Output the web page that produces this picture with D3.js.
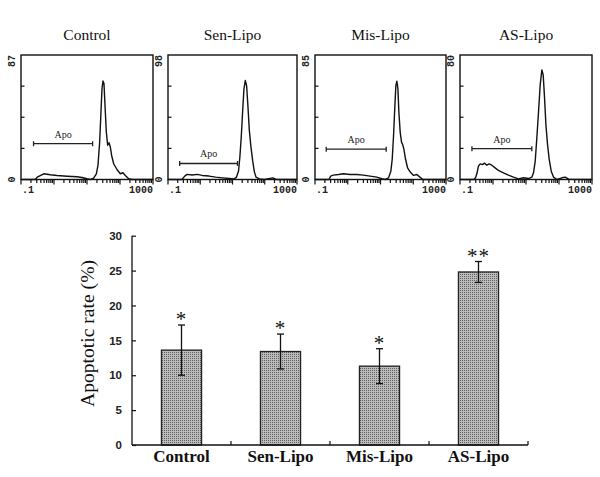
<!DOCTYPE html>
<html>
<head>
<meta charset="utf-8">
<script src="https://cdn.jsdelivr.net/npm/d3@7"></script>
<style>
  html, body { margin: 0; padding: 0; background: #fff; }
  svg { display: block; }
</style>
</head>
<body>
<div id="chart"></div>
<script>
// ---------------- DATA ----------------
// Flow cytometry histograms (fluorescence channel, cell count)
const panelNames = ["Control", "Sen-Lipo", "Mis-Lipo", "AS-Lipo"];
const panelMaxCount = [87, 98, 85, 80];

const controlChannel = [0.1, 0.27, 0.31, 0.49, 0.77, 1.23, 2.5, 5.0, 7.0, 10, 12.6, 15.9, 19.2, 21.5, 24.2, 26.5, 28.5, 30.5, 32.7, 35.1, 38.5, 42.3, 46.5, 50.9, 55.8, 64.3, 81, 102, 123, 145, 183, 231, 1000];
const controlCount   = [0, 0, 1.6, 4.0, 3.3, 2.8, 2.3, 1.9, 1.4, 0.5, 0, 0.9, 4.0, 9.8, 26.2, 47.2, 63.6, 68.8, 67.1, 51.9, 33.2, 23.9, 25.7, 22.7, 16.8, 11.0, 7.0, 4.0, 4.7, 2.8, 0.5, 0, 0];

const senChannel = [0.1, 0.27, 0.33, 0.39, 0.56, 0.81, 1.15, 1.87, 3.0, 4.9, 7.9, 11.3, 13.3, 15.4, 16.9, 18.7, 20.5, 22.6, 24.9, 27.4, 30.1, 33.2, 37.4, 42.2, 47.5, 53.6, 68, 97.7, 178, 226, 1000];
const senCount   = [0, 0, 2.7, 4.0, 3.5, 4.0, 3.2, 2.7, 1.9, 1.3, 0.8, 0.5, 1.9, 6.7, 17.5, 33.6, 52.4, 71.2, 77.9, 73.8, 57.7, 38.9, 25.5, 14.8, 6.2, 1.9, 0.5, 0, 1.3, 0, 0];

const misChannel = [0.1, 0.27, 0.30, 0.36, 0.52, 0.74, 1.18, 1.89, 3.0, 4.8, 7.7, 11.0, 13.9, 17.6, 20.7, 22.8, 25.0, 27.5, 29.5, 31.6, 34.0, 36.4, 40.0, 44.0, 47.1, 51.8, 58.2, 67.1, 80.9, 102, 129, 156, 198, 1000];
const misCount   = [0, 0, 2.3, 3.0, 3.4, 3.9, 3.4, 3.4, 3.0, 2.3, 1.6, 0.5, 0, 1.1, 5.7, 13.8, 29.9, 50.5, 64.3, 67.1, 62.0, 45.9, 32.2, 25.3, 24.1, 20.7, 13.8, 8.0, 5.1, 2.8, 3.4, 1.8, 0, 0];

const asChannel = [0.1, 0.27, 0.30, 0.33, 0.36, 0.41, 0.48, 0.55, 0.65, 0.76, 0.92, 1.16, 1.46, 2.07, 2.94, 4.17, 5.9, 8.4, 11.9, 15.0, 16.9, 19.0, 21.3, 24.0, 26.9, 30.3, 33.2, 36.5, 40.1, 45.0, 50.6, 58.2, 68.4, 86.5, 123, 155, 195, 1000];
const asCount   = [0, 0, 1.5, 4.3, 8.5, 10.0, 9.6, 10.5, 9.2, 10.0, 9.2, 7.5, 5.8, 4.3, 2.8, 1.5, 0.4, 1.1, 0.6, 1.5, 4.3, 11.7, 26.7, 43.7, 60.8, 70.4, 67.2, 52.3, 35.2, 22.4, 12.8, 5.3, 1.5, 0, 1.1, 1.5, 0.2, 0];

// "Apo" gate markers (channel range and drawn count level)
const apoStart = [0.24, 0.23, 0.22, 0.23];
const apoEnd   = [14.8, 14.3, 14.9, 15.0];
const apoLevel = [25.0, 12.6, 20.7, 19.8];
const histAxisLabels = [".1", "1000"];

// Bar chart
const groups = ["Control", "Sen-Lipo", "Mis-Lipo", "AS-Lipo"];
const rates  = [13.6, 13.4, 11.3, 24.8];
const errors = [3.6, 2.5, 2.5, 1.5];
const marks  = ["*", "*", "*", "**"];
const rateTicks = [0, 5, 10, 15, 20, 25, 30];
const yTitle = "Apoptotic rate (%)";

// ---------------- LAYOUT ----------------
const W = 600, H = 477;
const svg = d3.select("#chart").append("svg")
  .attr("width", W).attr("height", H)
  .attr("viewBox", `0 0 ${W} ${H}`);
svg.append("rect").attr("width", W).attr("height", H).attr("fill", "#fff");

const serif = "'Liberation Serif', 'Times New Roman', serif";
const sans = "'Liberation Sans', Arial, sans-serif";
const mono = "'Liberation Mono', 'DejaVu Sans Mono', monospace";

// ---------------- HISTOGRAMS ----------------
const histData = [
  [controlChannel, controlCount],
  [senChannel, senCount],
  [misChannel, misCount],
  [asChannel, asCount]
];
const panelLeft  = [21, 168, 315, 460];
const panelRight = [153, 297, 446, 592];
const panelTop = 55, panelBottom = 179.5;

histData.forEach(([ch, cnt], i) => {
  const xL = panelLeft[i], xR = panelRight[i];
  const xs = d3.scaleLog().domain([0.1, 1000]).range([xL, xR]);
  const ys = d3.scaleLinear().domain([0, panelMaxCount[i]]).range([panelBottom, panelTop]);
  const g = svg.append("g");

  // title
  g.append("text")
    .attr("x", (xL + xR) / 2).attr("y", 40)
    .attr("text-anchor", "middle")
    .attr("font-family", serif).attr("font-size", 15.5)
    .attr("fill", "#111")
    .text(panelNames[i]);

  // frame
  g.append("rect")
    .attr("x", xL).attr("y", panelTop)
    .attr("width", xR - xL).attr("height", panelBottom - panelTop)
    .attr("fill", "none").attr("stroke", "#111").attr("stroke-width", 1.4);

  // y ticks (inward, quarters)
  const qTicks = [0.25, 0.5, 0.75].map(f => f * panelMaxCount[i]);
  g.selectAll(".yt").data(qTicks).join("line")
    .attr("x1", xL).attr("x2", xL + 3.5)
    .attr("y1", d => ys(d)).attr("y2", d => ys(d))
    .attr("stroke", "#111").attr("stroke-width", 1.2);

  // y labels (rotated)
  g.append("text")
    .attr("transform", `translate(${xL - 6.5},${panelTop}) rotate(-90)`)
    .attr("text-anchor", "end")
    .attr("font-family", mono).attr("font-size", 10).attr("font-weight", "bold")
    .attr("fill", "#222")
    .text(panelMaxCount[i]);
  g.append("text")
    .attr("transform", `translate(${xL - 6.5},${panelBottom}) rotate(-90)`)
    .attr("text-anchor", "middle")
    .attr("font-family", mono).attr("font-size", 10).attr("font-weight", "bold")
    .attr("fill", "#222")
    .text("0");

  // x log ticks (below)
  const ticks = xs.ticks();
  g.selectAll(".xt").data(ticks).join("line")
    .attr("x1", d => xs(d)).attr("x2", d => xs(d))
    .attr("y1", panelBottom)
    .attr("y2", d => panelBottom + (Math.abs(Math.log10(d) - Math.round(Math.log10(d))) < 1e-6 ? 5 : 3.5))
    .attr("stroke", "#111").attr("stroke-width", 1.2);

  g.append("text")
    .attr("x", xL + 1).attr("y", 193)
    .attr("font-family", mono).attr("font-size", 10).attr("font-weight", "bold")
    .attr("fill", "#222")
    .text(histAxisLabels[0]);
  g.append("text")
    .attr("x", xR).attr("y", 193)
    .attr("text-anchor", "end")
    .attr("font-family", mono).attr("font-size", 10).attr("font-weight", "bold")
    .attr("fill", "#222")
    .text(histAxisLabels[1]);

  // histogram line
  const pts = ch.map((c, k) => ({ c, n: cnt[k] }));
  g.append("path")
    .datum(pts)
    .attr("d", d3.line().x(d => xs(d.c)).y(d => ys(d.n)))
    .attr("fill", "none").attr("stroke", "#111").attr("stroke-width", 1.4)
    .attr("stroke-linejoin", "round");

  // Apo gate
  const ay = ys(apoLevel[i]);
  const ax1 = xs(apoStart[i]), ax2 = xs(apoEnd[i]);
  g.append("line").attr("x1", ax1).attr("x2", ax2).attr("y1", ay).attr("y2", ay)
    .attr("stroke", "#222").attr("stroke-width", 1.3);
  [ax1, ax2].forEach(x => g.append("line")
    .attr("x1", x).attr("x2", x).attr("y1", ay - 2.5).attr("y2", ay + 2.5)
    .attr("stroke", "#222").attr("stroke-width", 1.3));
  g.append("text")
    .attr("x", (ax1 + ax2) / 2).attr("y", ay - 6)
    .attr("text-anchor", "middle")
    .attr("font-family", serif).attr("font-size", 10)
    .attr("fill", "#222")
    .text("Apo");
});

// ---------------- BAR CHART ----------------
const defs = svg.append("defs");
const pat = defs.append("pattern").attr("id", "dots")
  .attr("patternUnits", "userSpaceOnUse").attr("width", 2).attr("height", 2);
pat.append("rect").attr("width", 2).attr("height", 2).attr("fill", "#bcbcbc");
pat.append("rect").attr("width", 1).attr("height", 1).attr("fill", "#5e5e5e");

const x = d3.scaleBand().domain(groups).range([132, 528]).padding(0);
const y = d3.scaleLinear().domain([0, 30]).range([445, 235.7]);
const barW = x.bandwidth() * 0.405;

const bc = svg.append("g");

// bars
bc.selectAll(".bar").data(groups).join("rect")
  .attr("x", d => x(d) + (x.bandwidth() - barW) / 2)
  .attr("y", (d, i) => y(rates[i]))
  .attr("width", barW)
  .attr("height", (d, i) => y(0) - y(rates[i]))
  .attr("fill", "url(#dots)")
  .attr("stroke", "#222").attr("stroke-width", 1.3);

// error bars
groups.forEach((gname, i) => {
  const cx = x(gname) + x.bandwidth() / 2;
  const top = y(rates[i] + errors[i]), bot = y(rates[i] - errors[i]);
  bc.append("line").attr("x1", cx).attr("x2", cx).attr("y1", top).attr("y2", bot)
    .attr("stroke", "#111").attr("stroke-width", 1.3);
  [top, bot].forEach(yy => bc.append("line")
    .attr("x1", cx - 3.5).attr("x2", cx + 3.5).attr("y1", yy).attr("y2", yy)
    .attr("stroke", "#111").attr("stroke-width", 1.3));
  bc.append("text")
    .attr("x", cx).attr("y", top + 1)
    .attr("text-anchor", "middle")
    .attr("font-family", serif).attr("font-size", 21)
    .attr("fill", "#111")
    .attr("letter-spacing", 1)
    .text(marks[i]);
});

// y axis (ticks point inward)
const yAxis = bc.append("g")
  .attr("transform", "translate(132,0)")
  .call(d3.axisLeft(y).tickValues(rateTicks).tickSize(-4).tickPadding(10).tickSizeOuter(0));
yAxis.select(".domain").attr("stroke", "#111").attr("stroke-width", 1.3)
  .attr("d", `M0,${y(30)}V${y(0)}`);
yAxis.selectAll(".tick line").attr("stroke", "#111").attr("stroke-width", 1.2);
yAxis.selectAll(".tick text")
  .attr("font-family", sans).attr("font-size", 11.5).attr("font-weight", "bold")
  .attr("fill", "#222");

// x axis
const xAxis = bc.append("g")
  .attr("transform", `translate(0,${y(0)})`)
  .call(d3.axisBottom(x).tickSize(0).tickPadding(5).tickSizeOuter(0));
xAxis.select(".domain").attr("stroke", "#111").attr("stroke-width", 1.3)
  .attr("d", "M132,0H528");
xAxis.selectAll(".tick text")
  .attr("font-family", serif).attr("font-size", 17).attr("font-weight", "bold")
  .attr("fill", "#111");
// band boundary ticks (upward)
bc.selectAll(".bt").data(groups).join("line")
  .attr("x1", d => x(d) + x.bandwidth()).attr("x2", d => x(d) + x.bandwidth())
  .attr("y1", y(0)).attr("y2", y(0) - 4)
  .attr("stroke", "#111").attr("stroke-width", 1.2);

// y title
bc.append("text")
  .attr("transform", `translate(94,${(260 + 407) / 2}) rotate(-90)`)
  .attr("text-anchor", "middle")
  .attr("font-family", serif).attr("font-size", 18.5)
  .attr("textLength", 147).attr("lengthAdjust", "spacingAndGlyphs")
  .attr("fill", "#111")
  .text(yTitle);
</script>
</body>
</html>
